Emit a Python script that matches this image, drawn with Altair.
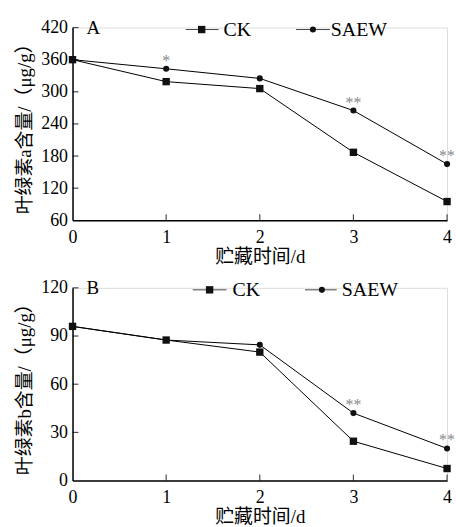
import altair as alt
import pandas as pd

DAYS = [0, 1, 2, 3, 4]
SERIES = ["CK", "SAEW"]

A_CK = [360, 319, 306, 187, 95]
A_SAEW = [360, 343, 325, 265, 165]
A_SIG = ["", "*", "", "**", "**"]
A_YTICKS = [60, 120, 180, 240, 300, 360, 420]

B_CK = [96, 87.5, 80, 24.5, 7.5]
B_SAEW = [96, 87.5, 84.5, 42, 20]
B_SIG = ["", "", "", "**", "**"]
B_YTICKS = [0, 30, 60, 90, 120]

X_TITLE = "贮藏时间/d"
A_YTITLE = "叶绿素a含量/（μg/g）"
B_YTITLE = "叶绿素b含量/（μg/g）"

FONT = "Liberation Serif, Noto Sans CJK SC"
NUMFONT = "Liberation Serif"
W, H = 377, 194


def panel(ck, saew, sig, yticks, ytitle, letter, leg):
    df = pd.DataFrame({
        "day": DAYS * 2,
        "value": ck + saew,
        "series": [SERIES[0]] * len(DAYS) + [SERIES[1]] * len(DAYS),
        "sig": [""] * len(DAYS) + sig,
    })
    ymin, ymax = yticks[0], yticks[-1]
    xscale = alt.Scale(domain=[0, 4], nice=False)
    yscale = alt.Scale(domain=[ymin, ymax], nice=False, zero=False)
    xaxis = alt.Axis(values=DAYS, title=X_TITLE, grid=False, ticks=False,
                     labelPadding=8, titlePadding=1, domainColor="black",
                     domainWidth=1.5, labelFontSize=18, titleFontSize=19,
                     labelFont=NUMFONT, titleFont=FONT, labelColor="black",
                     titleColor="black", titleFontWeight="normal",
                     labelFlush=False)
    yaxis = alt.Axis(values=yticks, title=ytitle, grid=False, ticks=False,
                     labelPadding=5, titlePadding=6, domainColor="black",
                     domainWidth=1.5, labelFontSize=18, titleFontSize=19,
                     labelFont=NUMFONT, titleFont=FONT, labelColor="black",
                     titleColor="black", titleFontWeight="normal",
                     labelFlush=False)
    X = alt.X("day:Q", scale=xscale, axis=xaxis)
    Y = alt.Y("value:Q", scale=yscale, axis=yaxis)

    base = alt.Chart(df).encode(x=X, y=Y)
    lines = base.mark_line(color="black", strokeWidth=1).encode(detail="series:N")
    points = base.mark_point(filled=True, color="#111", opacity=1).encode(
        shape=alt.Shape("series:N", scale=alt.Scale(domain=SERIES, range=["square", "circle"]), legend=None),
        size=alt.Size("series:N", scale=alt.Scale(domain=SERIES, range=[55, 38]), legend=None),
    )
    stars = base.mark_text(color="#888", fontSize=16, font=NUMFONT, dy=-8, baseline="middle").encode(
        text="sig:N"
    ).transform_filter(alt.datum.sig != "")

    ytick_df = pd.DataFrame({"value": yticks[1:]})
    ytk = alt.Chart(ytick_df).mark_tick(color="black", thickness=1.2, size=6, orient="horizontal").encode(
        y=Y, x=alt.value(3)
    )
    xtick_df = pd.DataFrame({"day": DAYS[1:]})
    xtk = alt.Chart(xtick_df).mark_tick(color="black", thickness=1.2, size=6, orient="vertical").encode(
        x=X, y=alt.value(H - 3)
    )

    lab = alt.Chart(pd.DataFrame({"t": [letter]})).mark_text(
        font=NUMFONT, fontSize=19, align="left", baseline="middle", color="black"
    ).encode(x=alt.value(14), y=alt.value(0), text="t:N")

    legend_layers = []
    for i, name in enumerate(SERIES):
        x1, x2, cx, tx = leg[i]
        ldf = pd.DataFrame({"series": [name]})
        legend_layers.append(alt.Chart(ldf).mark_rule(color="#444", strokeWidth=1).encode(
            x=alt.value(x1), x2=alt.value(x2), y=alt.value(2)))
        legend_layers.append(alt.Chart(ldf).mark_point(
            filled=True, color="#111", opacity=1,
            shape="square" if i == 0 else "circle", size=55 if i == 0 else 38
        ).encode(x=alt.value(cx), y=alt.value(2)))
        legend_layers.append(alt.Chart(ldf).mark_text(
            font=NUMFONT, fontSize=20, align="left", baseline="middle", color="black"
        ).encode(x=alt.value(tx), y=alt.value(2), text="series:N"))

    return alt.layer(lines, points, stars, ytk, xtk, lab, *legend_layers).properties(width=W, height=H)


top = panel(A_CK, A_SAEW, A_SIG, A_YTICKS, A_YTITLE, "A",
            [(114, 147, 130, 152), (225, 259, 242, 260)])
bottom = panel(B_CK, B_SAEW, B_SIG, B_YTICKS, B_YTITLE, "B",
               [(121, 155, 138, 161), (234, 266, 251, 271)])

chart = alt.vconcat(top, bottom, spacing=11).properties(
    padding={"left": 15, "top": 16, "right": 0, "bottom": 0}
).configure_view(stroke=None).configure(background="white")

chart.save("out.html", embed_options={"renderer": "svg", "actions": False})
